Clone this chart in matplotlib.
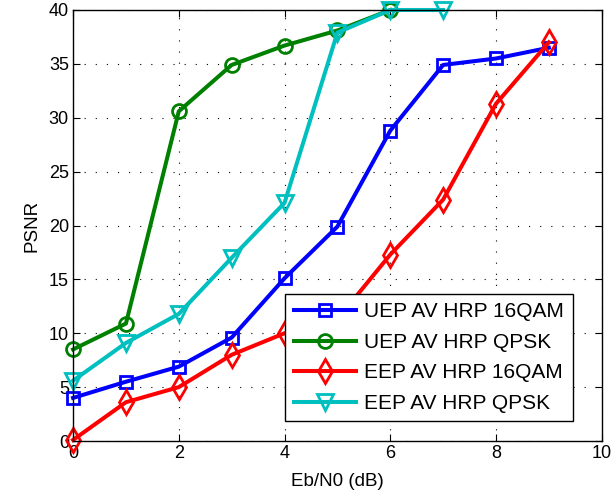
import numpy as np
import matplotlib
matplotlib.use("Agg")
import matplotlib.pyplot as plt

plt.rcParams['font.family'] = ['Liberation Sans', 'DejaVu Sans']

# Eb/N0 values (dB)
ebn0 = [0, 1, 2, 3, 4, 5, 6, 7, 8, 9]

# PSNR
uep_16qam = [4.0, 5.5, 6.9, 9.6, 15.1, 19.9, 28.8, 34.9, 35.5, 36.5]
uep_qpsk = [8.5, 10.9, 30.6, 34.9, 36.7, 38.1, 40.0]
eep_16qam = [0.1, 3.6, 5.0, 8.0, 10.0, 11.3, 17.3, 22.4, 31.3, 37.0]
eep_qpsk = [5.6, 9.1, 11.8, 17.0, 22.1, 37.9, 40.0, 40.0]

labels = ['UEP AV HRP 16QAM', 'UEP AV HRP QPSK',
          'EEP AV HRP 16QAM', 'EEP AV HRP QPSK']

fig = plt.figure(figsize=(6.14, 5.0), dpi=100)
ax = fig.add_axes([0.119, 0.118, 0.861, 0.862])

lw = 2.9
mew = 2.0
ax.plot(ebn0[:len(uep_16qam)], uep_16qam, '-s', color=(0, 0, 1), lw=lw,
        ms=9, mew=mew, mfc='none', label=labels[0], clip_on=False)
ax.plot(ebn0[:len(uep_qpsk)], uep_qpsk, '-o', color=(0, 0.5, 0), lw=lw,
        ms=10, mew=mew, mfc='none', label=labels[1], clip_on=False)
ax.plot(ebn0[:len(eep_16qam)], eep_16qam, '-d', color=(1, 0, 0), lw=lw,
        ms=12, mew=mew, mfc='none', label=labels[2], clip_on=False)
ax.plot(ebn0[:len(eep_qpsk)], eep_qpsk, '-v', color=(0, 0.75, 0.75), lw=lw,
        ms=12, mew=mew, mfc='none', label=labels[3], clip_on=False)

ax.set_xlim(0, 10)
ax.set_ylim(0, 40)
ax.set_xticks(np.arange(0, 11, 2))
ax.set_yticks(np.arange(0, 41, 5))
ax.grid(True, color='k', linestyle=(0, (1, 9)), linewidth=0.8)
ax.tick_params(direction='in', top=True, right=True, labelsize=13,
               length=5, width=0.8, pad=3)
for s in ax.spines.values():
    s.set_linewidth(1.0)

ax.set_xlabel('Eb/N0 (dB)', fontsize=13.5, labelpad=8)
ax.set_ylabel('PSNR', fontsize=13.5, labelpad=6)

leg = ax.legend(loc='lower right', bbox_to_anchor=(0.945, 0.046),
                borderaxespad=0, fontsize=15, fancybox=False,
                edgecolor='k', framealpha=1, handlelength=3.0,
                handletextpad=0.4, labelspacing=0.55, borderpad=0.4)
leg.get_frame().set_linewidth(1.0)
leg.set_zorder(10)

fig.savefig('out.png', dpi=100)
